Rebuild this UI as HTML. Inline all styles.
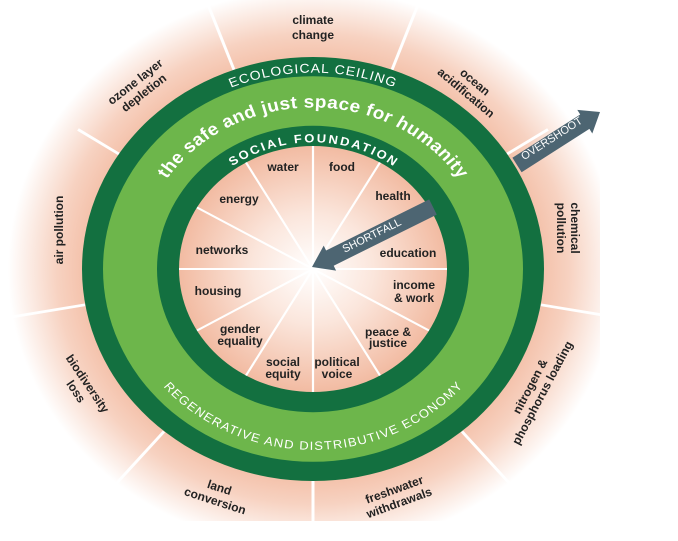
<!DOCTYPE html>
<html><head><meta charset="utf-8"><style>
html,body{margin:0;padding:0;background:#fff;}
svg{display:block;}
text{font-family:"Liberation Sans",Arial,sans-serif;}
</style></head><body>
<svg width="678" height="541" viewBox="0 0 678 541" xmlns="http://www.w3.org/2000/svg">
<defs>
<radialGradient id="outerG" cx="0" cy="0" r="305" gradientUnits="userSpaceOnUse">
<stop offset="0.72" stop-color="#f3bca3"/>
<stop offset="0.84" stop-color="#f7d2c1"/>
<stop offset="1" stop-color="#ffffff"/>
</radialGradient>
<radialGradient id="innerG" cx="0" cy="0" r="134" gradientUnits="userSpaceOnUse">
<stop offset="0" stop-color="#ffffff"/>
<stop offset="0.45" stop-color="#fbe6dc"/>
<stop offset="1" stop-color="#f2bba2"/>
</radialGradient>
<clipPath id="clip"><rect x="0" y="0" width="600" height="521"/></clipPath>
<path id="pEco" d="M -214 0 A 214 214 0 0 1 214 0"/>
<path id="pSafe" d="M -176 0 A 176 176 0 0 1 176 0"/>
<path id="pSoc" d="M -138 0 A 138 138 0 0 1 138 0"/>
<path id="pReg" d="M -197 0 A 197 197 0 0 0 197 0"/>
</defs>
<g clip-path="url(#clip)">
<g transform="translate(313,269) scale(1,0.918)">
<circle r="306" fill="url(#outerG)"/>
<g stroke="#ffffff" stroke-width="3">
<line x1="79" y1="-217" x2="105" y2="-288"/>
<line x1="-79" y1="-217" x2="-105" y2="-288"/>
<line x1="177" y1="-114" x2="235" y2="-152"/>
<line x1="-177" y1="-114" x2="-235" y2="-152"/>
<line x1="228" y1="39" x2="300" y2="52"/>
<line x1="-228" y1="39" x2="-300" y2="52"/>
<line x1="149" y1="177" x2="197" y2="234"/>
<line x1="-149" y1="177" x2="-197" y2="234"/>
<line x1="0" y1="231" x2="0" y2="306"/>
</g>
<circle r="231" fill="#137040"/>
<circle r="210" fill="#6db64b"/>
<circle r="156" fill="#137040"/>
<circle r="134" fill="url(#innerG)"/>
<g stroke="#ffffff" stroke-width="2.2">
<line x1="0" y1="0" x2="0" y2="-134"/>
<line x1="0" y1="0" x2="67" y2="-116"/>
<line x1="0" y1="0" x2="116" y2="-67"/>
<line x1="0" y1="0" x2="134" y2="0"/>
<line x1="0" y1="0" x2="116" y2="67"/>
<line x1="0" y1="0" x2="67" y2="116"/>
<line x1="0" y1="0" x2="0" y2="134"/>
<line x1="0" y1="0" x2="-67" y2="116"/>
<line x1="0" y1="0" x2="-116" y2="67"/>
<line x1="0" y1="0" x2="-134" y2="0"/>
<line x1="0" y1="0" x2="-116" y2="-67"/>
<line x1="0" y1="0" x2="-67" y2="-116"/>
</g>
<text fill="#fff" font-size="14" letter-spacing="1"><textPath href="#pEco" startOffset="50%" text-anchor="middle">ECOLOGICAL CEILING</textPath></text>
<text fill="#fff" font-size="19" font-weight="bold"><textPath href="#pSafe" startOffset="50%" text-anchor="middle" textLength="345">the safe and just space for humanity</textPath></text>
<text fill="#fff" font-size="13" font-weight="bold"><textPath href="#pSoc" startOffset="50%" text-anchor="middle" textLength="172">SOCIAL FOUNDATION</textPath></text>
<text fill="#fff" font-size="13"><textPath href="#pReg" startOffset="50%" text-anchor="middle" textLength="340">REGENERATIVE AND DISTRIBUTIVE ECONOMY</textPath></text>
</g>
<g fill="#4d6572">
<polygon points="512.4,157.8 580.2,114.5 577.3,109.9 600,112 592.3,133.5 589.4,128.9 521.6,172.2"/>
<polygon points="429.2,199.4 326.1,250.5 323.7,245.6 312,267 336.1,270.6 333.7,265.7 436.8,214.6"/>
</g>
<text x="0" y="0" transform="translate(552,139) rotate(-32.6)" fill="#fff" font-size="11" text-anchor="middle" dominant-baseline="middle">OVERSHOOT</text>
<text x="0" y="0" transform="translate(372,236) rotate(-26.4)" fill="#fff" font-size="11" text-anchor="middle" dominant-baseline="middle">SHORTFALL</text>
<g fill="#222" font-size="12" font-weight="bold" text-anchor="middle" dominant-baseline="middle">
<text x="283" y="168">water</text>
<text x="342" y="168">food</text>
<text x="239" y="200">energy</text>
<text x="393" y="197">health</text>
<text x="222" y="251">networks</text>
<text x="408" y="254">education</text>
<text x="218" y="292">housing</text>
<text x="414" y="286">income</text><text x="414" y="299">&amp; work</text>
<text x="240" y="330">gender</text><text x="240" y="342">equality</text>
<text x="388" y="333">peace &amp;</text><text x="388" y="344">justice</text>
<text x="283" y="363">social</text><text x="283" y="375">equity</text>
<text x="337" y="363">political</text><text x="337" y="375">voice</text>
<text x="313" y="21">climate</text><text x="313" y="36">change</text>
<g transform="translate(140,88) rotate(-38)"><text x="0" y="-7">ozone layer</text><text x="0" y="7">depletion</text></g>
<g transform="translate(60,230) rotate(-90)"><text x="0" y="0">air pollution</text></g>
<g transform="translate(81,388) rotate(56)"><text x="0" y="-7">biodiversity</text><text x="0" y="7">loss</text></g>
<g transform="translate(217,495) rotate(18)"><text x="0" y="-7">land</text><text x="0" y="7">conversion</text></g>
<g transform="translate(397,497) rotate(-20)"><text x="0" y="-7">freshwater</text><text x="0" y="7">withdrawals</text></g>
<g transform="translate(537,390) rotate(-62)"><text x="0" y="-7">nitrogen &amp;</text><text x="0" y="7">phosphorus loading</text></g>
<g transform="translate(567,228) rotate(90)"><text x="0" y="-7">chemical</text><text x="0" y="7">pollution</text></g>
<g transform="translate(470,88) rotate(40)"><text x="0" y="-7">ocean</text><text x="0" y="7">acidification</text></g>
</g>
</g>
</svg>
</body></html>
